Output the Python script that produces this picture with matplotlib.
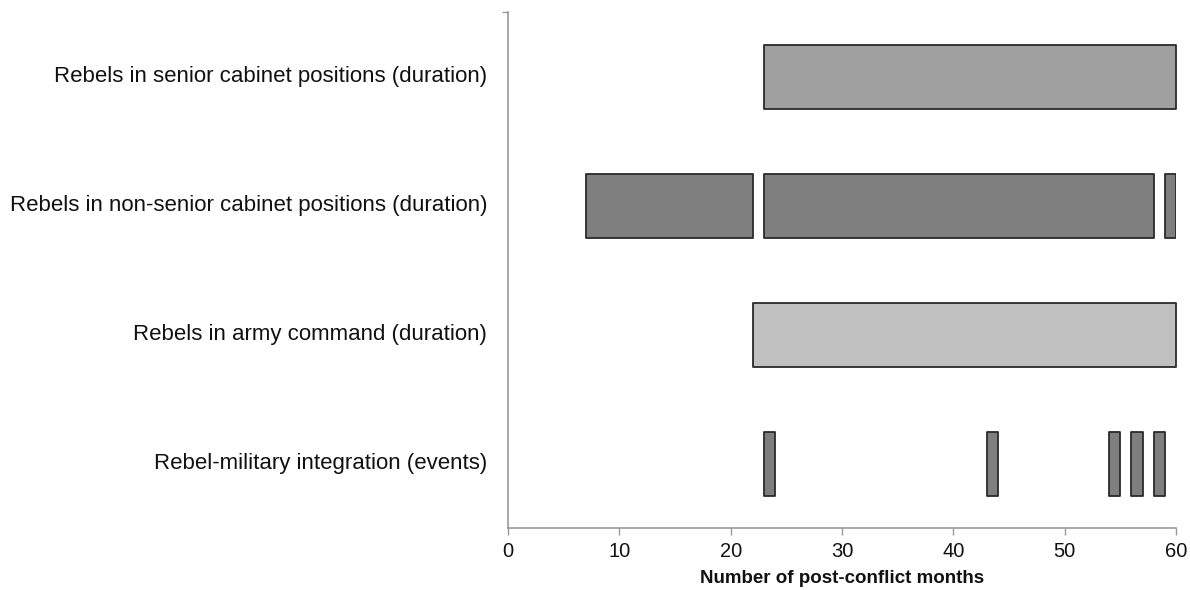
import matplotlib.pyplot as plt

plt.rcParams['font.family'] = ['Liberation Sans', 'DejaVu Sans']

categories = ["Rebel-military integration (events)",
              "Rebels in army command (duration)",
              "Rebels in non-senior cabinet positions (duration)",
              "Rebels in senior cabinet positions (duration)"]
# (start month, end month) for each span
events = [(23, 24), (43, 44), (54, 55), (56, 57), (58, 59)]
army = [(22, 60)]
nonsenior = [(7, 22), (23, 58), (59, 60)]
senior = [(23, 60)]
spans = [events, army, nonsenior, senior]
colors = ['#7f7f7f', '#c0c0c0', '#7f7f7f', '#a0a0a0']
xticks = [0, 10, 20, 30, 40, 50, 60]

fig = plt.figure(figsize=(11.9, 5.9), dpi=100)
ax = fig.add_axes([0.4269, 0.1046, 0.9882 - 0.4269, 0.9792 - 0.1046])

for i in range(len(categories)):
    segs = [(s, e - s) for s, e in spans[i]]
    ax.broken_barh(segs, (i - 0.25, 0.5), facecolors=colors[i],
                   edgecolor='#2a2a2a', linewidth=1.3)

ax.set_xlim(0, 60)
ax.set_ylim(-0.5, 3.5)
ax.set_xticks(xticks)
ax.set_xticklabels([str(t) for t in xticks], fontsize=14.5, color='#111111')
ax.set_yticks([3.5])
ax.set_yticklabels([''])
for i, c in enumerate(categories):
    ax.text(-0.031, i, c, transform=ax.get_yaxis_transform(), ha='right',
            va='center', fontsize=16, color='#111111')

ax.tick_params(axis='x', length=5, width=1, color='#999999', pad=5)
ax.tick_params(axis='y', length=4, width=1, color='#999999')
for side in ['top', 'right']:
    ax.spines[side].set_visible(False)
for side in ['left', 'bottom']:
    ax.spines[side].set_color('#999999')
    ax.spines[side].set_linewidth(1.2)

ax.set_xlabel("Number of post-conflict months", fontsize=13.5, fontweight='bold',
              labelpad=6, color='#111111')

plt.savefig("out.png", dpi=100)
